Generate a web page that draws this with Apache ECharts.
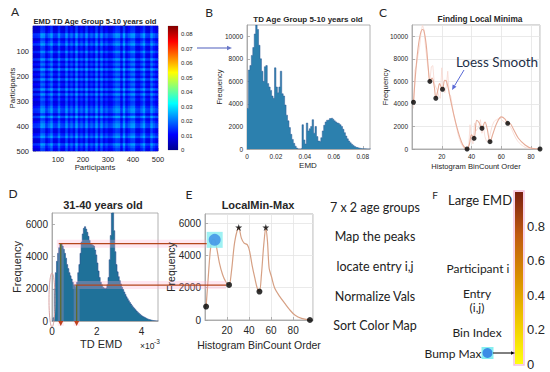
<!DOCTYPE html>
<html><head><meta charset="utf-8">
<script src="https://cdn.jsdelivr.net/npm/echarts@6/dist/echarts.min.js"></script>
<style>html,body{margin:0;padding:0;background:#fff}#c{width:550px;height:372px}</style>
</head><body><div id="c"></div>
<script>
// ---------- DATA ----------
// Panel A: mean EMD level per block of 10 participants (matrix is symmetric)
const participantBlockEMD = [0.005,0.006,0.008,0.024,0.022,0.008,0.016,0.025,0.009,0.008,
  0.022,0.010,0.008,0.024,0.009,0.018,0.008,0.026,0.009,0.017,
  0.008,0.024,0.008,0.016,0.009,0.025,0.008,0.023,0.009,0.016,
  0.008,0.010,0.018,0.024,0.022,0.008,0.026,0.009,0.016,0.023,
  0.024,0.009,0.008,0.017,0.025,0.009,0.008,0.024,0.015,0.009];
const participantTicks = [100,200,300,400,500];
const colorbarAMax = 0.0856;
const jetColors = ['#00008f','#0000ff','#0080ff','#00ffff','#80ff80','#ffff00','#ff8000','#ff0000','#800000'];

// Panel B: histogram (bin width 0.001)
const histBBinWidth = 0.001;
const histB = [3600,7000,7400,8300,9000,10200,11000,10600,9200,8000,
  6900,6000,7300,7400,5800,5500,5200,4700,4500,7200,
  5500,5000,5500,6900,4900,4700,3900,3000,2500,1900,
  1300,850,500,250,80,10,0,50,2150,800,
  450,2300,1600,1800,2000,2600,1400,2000,1100,700,
  650,1000,1600,2100,2400,2550,2600,2700,2750,2650,
  2500,2400,2300,2250,2150,2000,1750,1450,1150,900,
  700,550,420,320,220,150,100,70,45,30,
  20,12,8,5,3,1];

// Panel C: loess-smoothed curve and local minima
const smoothC = [[1,4150],[3,7600],[5,9800],[7,10600],[8,10500],[9.5,9300],[11,7100],[12,6000],[13.5,6300],[15,5500],[16,4500],[17.5,5300],[18.5,5800],[19.5,5550],[20.5,5300],[22,6100],[23,6050],[24.5,5300],[26,4300],[28,3100],[30,2000],[32,1100],[34,400],[36,50],[37,0],[38.5,400],[40,1250],[41.7,950],[43.5,2550],[45,2350],[47,1840],[49,2400],[50.5,1800],[52.4,650],[54.5,1400],[57,2300],[60,2850],[62.5,2650],[64.3,2280],[66,2250],[68,1800],[71.5,950],[76,360],[80.5,60],[86,0]];
const minimaC = [[1,4150],[12,6000],[16,4500],[20.5,5300],[37,0],[41.7,950],[47,1840],[52.4,650],[64.3,2280],[86,0]];

// Panel D: histogram (bin width 0.05 x 1e-3)
const histDBinWidth = 0.05;
const histD = [0,200,2000,3000,3700,4200,4550,4750,4800,4650,
  4450,4200,3900,3500,3250,3000,2800,2600,2400,2250,
  2150,2100,2400,3000,3500,4200,4900,5400,5750,5850,
  5700,5500,5250,5000,4800,4750,4700,4650,4400,4100,
  3600,3100,2700,2400,2250,2100,2050,2000,2050,2250,
  2700,3800,5300,6700,7000,5600,4300,3500,3050,2750,
  2500,2300,2100,1950,1800,1650,1500,1380,1260,1150,
  1050,950,860,780,700,620,550,480,420,360,
  310,260,220,180,145,115,90,70,50,35,
  22,12,6,3,1];
const dAnnotPeak = [0.39, 4800];
const dAnnotMin = [1.1, 2230];

// Panel E: smoothed curve, minima, peaks, bump max
const smoothE = [[1,830],[3,2700],[5,4400],[7,5000],[8.8,4960],[10.5,4500],[13,3550],[16,2800],[19,2350],[21.8,2170],[24,3000],[27,4850],[30.6,5730],[33,5070],[35.5,4760],[38.5,4650],[40.5,4250],[42.7,3400],[45.2,2600],[47.5,1950],[49.4,1760],[51.2,2790],[53.3,4650],[55.2,5730],[56.7,4860],[58.2,3200],[60.3,2690],[63.3,1960],[67.9,1450],[72.4,1030],[77,620],[81.5,310],[87.6,100],[95.2,0]];
const minimaE = [[1,830],[21.8,2170],[49.4,1760],[95.2,0]];
const peaksE = [[30.6,5730],[55.2,5730]];
const bumpMaxE = [[8.8,4960]];

// Panel F
const stepsText = ['7 x 2 age groups','Map the peaks','locate entry i,j','Normalize Vals','Sort Color Map'];
const fTexts = ['Large EMD','Participant i','Entry','(i,j)','Bin Index','Bump Max'];
const fColors = ['#7a2010','#c05a10','#d99000','#f0c800','#ffff10'];

// ---------- BUILD ----------
const FONT = 'Liberation Sans';
const LFONT = 'Lato';
const TXT = '#262626';
const AX = '#a0a0a0';
const blocks = participantBlockEMD.map((_, i) => String(i));
const heatData = [];
participantBlockEMD.forEach((a, i) => participantBlockEMD.forEach((b, j) => heatData.push([j, i, (a + b) / 2])));
function stepData(hist, w) { const d = hist.map((v, i) => [i * w, v]); d.push([hist.length * w, 0]); return d; }
const plain = v => String(v);

function vAxis(o) {
  const fs = o.fs || 7;
  return Object.assign({
    type: 'value', axisLine: { show: true, lineStyle: { color: AX, width: 0.8 } },
    axisTick: { show: true, inside: true, length: 3, lineStyle: { color: AX, width: 0.8 } },
    axisLabel: { color: TXT, fontSize: fs, fontFamily: FONT, margin: o.margin || 4, showMaxLabel: o.showMax ? true : false, showMinLabel: o.showMin !== false ? null : false, formatter: o.fmt || plain },
    splitLine: { show: !!o.split, lineStyle: { color: '#e4e4e4', width: 0.8 } }
  }, o.extra);
}
const hidCat = (g, data, pos) => ({ type: 'category', gridIndex: g, data: data, show: false, boundaryGap: true, position: pos });
const gridBase = { show: true, borderColor: AX, borderWidth: 0.8, containLabel: false };

const jetStops = jetColors.slice().reverse().map((c, i, a) => ({ offset: i / (a.length - 1), color: c }));
const fStops = fColors.map((c, i, a) => ({ offset: i / (a.length - 1), color: c }));

const option = {
  animation: false,
  backgroundColor: '#fff',
  grid: [
    Object.assign({}, gridBase, { left: 33, top: 26, width: 125, height: 125, backgroundColor: '#1a30c8' }),
    Object.assign({}, gridBase, { left: 168, top: 26, width: 10, height: 124, borderColor: '#ccc' }),
    Object.assign({}, gridBase, { left: 247, top: 25, width: 123, height: 124 }),
    Object.assign({}, gridBase, { left: 412, top: 25, width: 128, height: 124 }),
    Object.assign({}, gridBase, { left: 52, top: 213, width: 106, height: 108 }),
    Object.assign({}, gridBase, { left: 205, top: 214, width: 108, height: 106 }),
    Object.assign({}, gridBase, { left: 515, top: 192, width: 8, height: 172, show: false })
  ],
  xAxis: [
    hidCat(0, blocks, 'top'),
    vAxis({ fs: 7.5, showMin: false, showMax: true, extra: { gridIndex: 0, position: 'bottom', min: 0, max: 500, interval: 100, axisLine: { show: false } } }),
    hidCat(1, ['a'], 'bottom'),
    vAxis({ fs: 6.5, fmt: v => v === 0 ? '0' : v.toFixed(2), extra: { gridIndex: 2, min: 0, max: 0.085, interval: 0.02 } }),
    vAxis({ fs: 6.5, split: true, showMin: false, extra: { gridIndex: 3, min: 0, max: 86, interval: 20 } }),
    vAxis({ fs: 10, margin: 5, extra: { gridIndex: 4, min: 0, max: 4.73, interval: 2 } }),
    vAxis({ fs: 10, margin: 5, split: true, showMin: false, extra: { gridIndex: 5, min: 0, max: 98, interval: 20 } }),
    hidCat(6, ['f'], 'bottom')
  ],
  yAxis: [
    Object.assign(hidCat(0, blocks, 'right'), { inverse: true }),
    vAxis({ fs: 7.5, showMin: false, showMax: true, extra: { gridIndex: 0, position: 'left', min: 0, max: 500, interval: 100, inverse: true, axisLine: { show: false } } }),
    vAxis({ fs: 6, margin: 3, fmt: v => v === 0 ? '0' : v.toFixed(2), extra: { gridIndex: 1, min: 0, max: colorbarAMax, interval: 0.01, position: 'right', axisLine: { show: false }, axisTick: { show: false } } }),
    vAxis({ fs: 6.5, extra: { gridIndex: 2, min: 0, max: 11000, interval: 2000 } }),
    vAxis({ fs: 6.5, split: true, extra: { gridIndex: 3, min: 0, max: 11000, interval: 2000 } }),
    vAxis({ fs: 10, margin: 4, extra: { gridIndex: 4, min: 0, max: 6700, interval: 2000 } }),
    vAxis({ fs: 10, margin: 4, split: true, extra: { gridIndex: 5, min: 0, max: 6560, interval: 2000 } }),
    vAxis({ fs: 13, margin: 4, fmt: v => v === 0 ? '0' : v.toFixed(1), extra: { gridIndex: 6, min: 0, max: 1, interval: 0.2, position: 'right', axisLine: { show: false }, axisTick: { show: false } } })
  ],
  visualMap: [{ show: false, type: 'continuous', min: 0, max: colorbarAMax, seriesIndex: 0, inRange: { color: jetColors } }],
  series: [
    { type: 'heatmap', xAxisIndex: 0, yAxisIndex: 0, data: heatData, progressive: 0 },
    { type: 'bar', xAxisIndex: 2, yAxisIndex: 2, data: [colorbarAMax], barWidth: '100%', itemStyle: { color: new echarts.graphic.LinearGradient(0, 0, 0, 1, jetStops) } },
    { type: 'line', xAxisIndex: 3, yAxisIndex: 3, step: 'end', data: stepData(histB, histBBinWidth), symbol: 'none', lineStyle: { color: '#2f5a96', width: 0.5 }, areaStyle: { color: '#2c80ae', opacity: 1 } },
    { type: 'line', xAxisIndex: 4, yAxisIndex: 4, data: histB.map((v, i) => [i + 1, v]), symbol: 'none', lineStyle: { color: '#f7d8d0', width: 0.8 } },
    { type: 'line', xAxisIndex: 4, yAxisIndex: 4, data: smoothC, smooth: 0.35, symbol: 'none', lineStyle: { color: '#e6ab97', width: 1.1 } },
    { type: 'scatter', xAxisIndex: 4, yAxisIndex: 4, data: minimaC, symbolSize: 5, itemStyle: { color: '#000' }, z: 5 },
    { type: 'line', xAxisIndex: 5, yAxisIndex: 5, step: 'end', data: stepData(histD, histDBinWidth), symbol: 'none', lineStyle: { color: '#2b4f8f', width: 0.6 }, areaStyle: { color: '#1f7199', opacity: 1 } },
    { type: 'line', xAxisIndex: 6, yAxisIndex: 6, data: smoothE, smooth: 0.3, symbol: 'none', lineStyle: { color: '#d6a084', width: 1.2 } },
    { type: 'scatter', xAxisIndex: 6, yAxisIndex: 6, data: minimaE, symbolSize: 6, itemStyle: { color: '#000' }, z: 5 },
    { type: 'scatter', xAxisIndex: 6, yAxisIndex: 6, data: peaksE, symbol: 'path://M50,0 L61,35 L98,35 L68,57 L79,91 L50,70 L21,91 L32,57 L2,35 L39,35 Z', symbolSize: 7, itemStyle: { color: '#000' }, z: 5 },
    { type: 'scatter', xAxisIndex: 6, yAxisIndex: 6, data: bumpMaxE, symbol: 'rect', symbolSize: 16, itemStyle: { color: '#86eef0' }, z: 6 },
    { type: 'scatter', xAxisIndex: 6, yAxisIndex: 6, data: bumpMaxE, symbolSize: 12, itemStyle: { color: '#3b8de6' }, z: 7 },
    { type: 'bar', xAxisIndex: 7, yAxisIndex: 7, data: [1], barWidth: '100%', itemStyle: { color: new echarts.graphic.LinearGradient(0, 0, 0, 1, fStops) } }
  ]
};

const chart = echarts.init(document.getElementById('c'), null, { renderer: 'svg', width: 550, height: 372 });
chart.setOption(option);

// ---------- GRAPHICS ----------
const G = [];
function txt(s, x, y, fs, o) {
  o = o || {};
  G.push({ type: 'text', x: x, y: y, rotation: o.rot || 0, z: 20,
    style: { text: s, fontSize: fs, fontFamily: o.font || FONT, fontWeight: o.bold ? 'bold' : 'normal', fill: o.color || TXT, align: o.align || 'center', verticalAlign: 'middle' } });
}
function arrow(x1, y1, x2, y2, color, w, head, z) {
  const a = Math.atan2(y2 - y1, x2 - x1);
  const bx = x2 - head * Math.cos(a), by = y2 - head * Math.sin(a);
  const px = -Math.sin(a) * head * 0.45, py = Math.cos(a) * head * 0.45;
  G.push({ type: 'line', z: z || 20, shape: { x1: x1, y1: y1, x2: bx, y2: by }, style: { stroke: color, lineWidth: w } });
  G.push({ type: 'polygon', z: z || 20, shape: { points: [[x2, y2], [bx + px, by + py], [bx - px, by - py]] }, style: { fill: color } });
}

// panel letters
txt('A', 15, 11, 12, { font: LFONT }); txt('B', 209, 12, 12, { font: LFONT }); txt('C', 383, 12, 12, { font: LFONT });
txt('D', 13, 193, 12, { font: LFONT }); txt('E', 189, 194, 12, { font: LFONT }); txt('F', 435, 195, 10, { font: LFONT });
// titles
txt('EMD TD Age Group 5-10 years old', 95, 21, 7.6, { bold: true });
txt('TD Age Group 5-10 years old', 308, 19, 8, { bold: true });
txt('Finding Local Minima', 480, 19, 8.3, { bold: true });
txt('31-40 years old', 103, 205, 11, { bold: true });
txt('LocalMin-Max', 258, 205, 11, { bold: true });
// axis names
txt('Participants', 95, 167, 7.8); txt('Participants', 12, 88, 7.8, { rot: Math.PI / 2 });
txt('EMD', 308, 165, 8); txt('Frequency', 219, 87, 7.4, { rot: Math.PI / 2 });
txt('Histogram BinCount Order', 476, 166, 7.6); txt('Frequency', 385, 87, 7.8, { rot: Math.PI / 2 });
txt('TD EMD', 101, 344, 11); txt('Frequency', 17, 267, 11, { rot: Math.PI / 2 });
G.push({ type: 'text', x: 140, y: 346, z: 20, style: { text: '×10', fontSize: 8.5, fontFamily: FONT, fill: TXT, align: 'left', verticalAlign: 'middle' } });
G.push({ type: 'text', x: 154, y: 341, z: 20, style: { text: '-3', fontSize: 6.5, fontFamily: FONT, fill: TXT, align: 'left', verticalAlign: 'middle' } });
txt('Histogram BinCount Order', 259, 345, 10.5); txt('Frequency', 171, 267, 10.5, { rot: Math.PI / 2 });
// step list
stepsText.forEach((s, i) => txt(s, 375, 207 + i * 29.7, 12.5, { font: LFONT, color: '#222' }));
// F texts
txt(fTexts[0], 480, 200, 13, { font: LFONT, color: '#222' });
txt(fTexts[1], 478, 268, 12, { font: LFONT, color: '#222' });
txt(fTexts[2], 477, 293, 12, { font: LFONT, color: '#222' });
txt(fTexts[3], 477, 307, 12, { font: LFONT, color: '#222' });
txt(fTexts[4], 477, 332, 12, { font: LFONT, color: '#222' });
txt(fTexts[5], 453, 353, 12, { font: LFONT, color: '#222' });
G.push({ type: 'rect', z: 19, shape: { x: 481.5, y: 347, width: 12, height: 12 }, style: { fill: '#86eef0' } });
G.push({ type: 'circle', z: 20, shape: { cx: 487.5, cy: 353, r: 5 }, style: { fill: '#3b8de6' } });
arrow(493, 353, 515, 353, '#000', 1, 4);
G.push({ type: 'rect', z: 18, shape: { x: 514, y: 191, width: 10, height: 174 }, style: { fill: 'none', stroke: '#f6c2de', lineWidth: 1.5 } });
// arrows
arrow(197, 48, 232, 48, '#6a78c8', 1.2, 5);
txt('Loess Smooth', 497, 62, 13.5, { font: LFONT, color: '#1e3048' });
arrow(464, 70, 452, 90, '#5a6ad6', 1, 5);

// D -> E annotations anchored to data
const pPeak = chart.convertToPixel({ gridIndex: 4 }, dAnnotPeak);
const pMin = chart.convertToPixel({ gridIndex: 4 }, dAnnotMin);
const eBump = chart.convertToPixel({ gridIndex: 5 }, bumpMaxE[0]);
const eMin = chart.convertToPixel({ gridIndex: 5 }, minimaE[1]);
const yBottom = 326;
[[pPeak, eBump[0] - 8], [pMin, eMin[0] - 3]].forEach(([p, xEnd]) => {
  G.push({ type: 'rect', z: 15, shape: { x: p[0] - 4, y: p[1] - 4, width: xEnd - p[0] + 4, height: 8 }, style: { fill: 'rgba(255,170,205,0.28)' } });
  G.push({ type: 'rect', z: 15, shape: { x: p[0] - 3, y: p[1] + 4, width: 6, height: yBottom - p[1] - 4 }, style: { fill: 'rgba(255,170,205,0.22)' } });
  G.push({ type: 'line', z: 16, shape: { x1: p[0] - 2, y1: p[1], x2: xEnd, y2: p[1] }, style: { stroke: '#b4461c', lineWidth: 1.3 } });
  G.push({ type: 'line', z: 16, shape: { x1: p[0], y1: p[1], x2: p[0], y2: yBottom - 4 }, style: { stroke: '#5f6a2c', lineWidth: 1.3 } });
  G.push({ type: 'polygon', z: 16, shape: { points: [[p[0], yBottom], [p[0] - 2.5, yBottom - 5], [p[0] + 2.5, yBottom - 5]] }, style: { fill: '#c0401c' } });
});
G.push({ type: 'ellipse', z: 16, shape: { cx: 52, cy: 300, rx: 3, ry: 27 }, style: { fill: 'none', stroke: '#d8a0a0', lineWidth: 1 } });

chart.setOption({ graphic: [{ elements: G }] });
</script></body></html>
